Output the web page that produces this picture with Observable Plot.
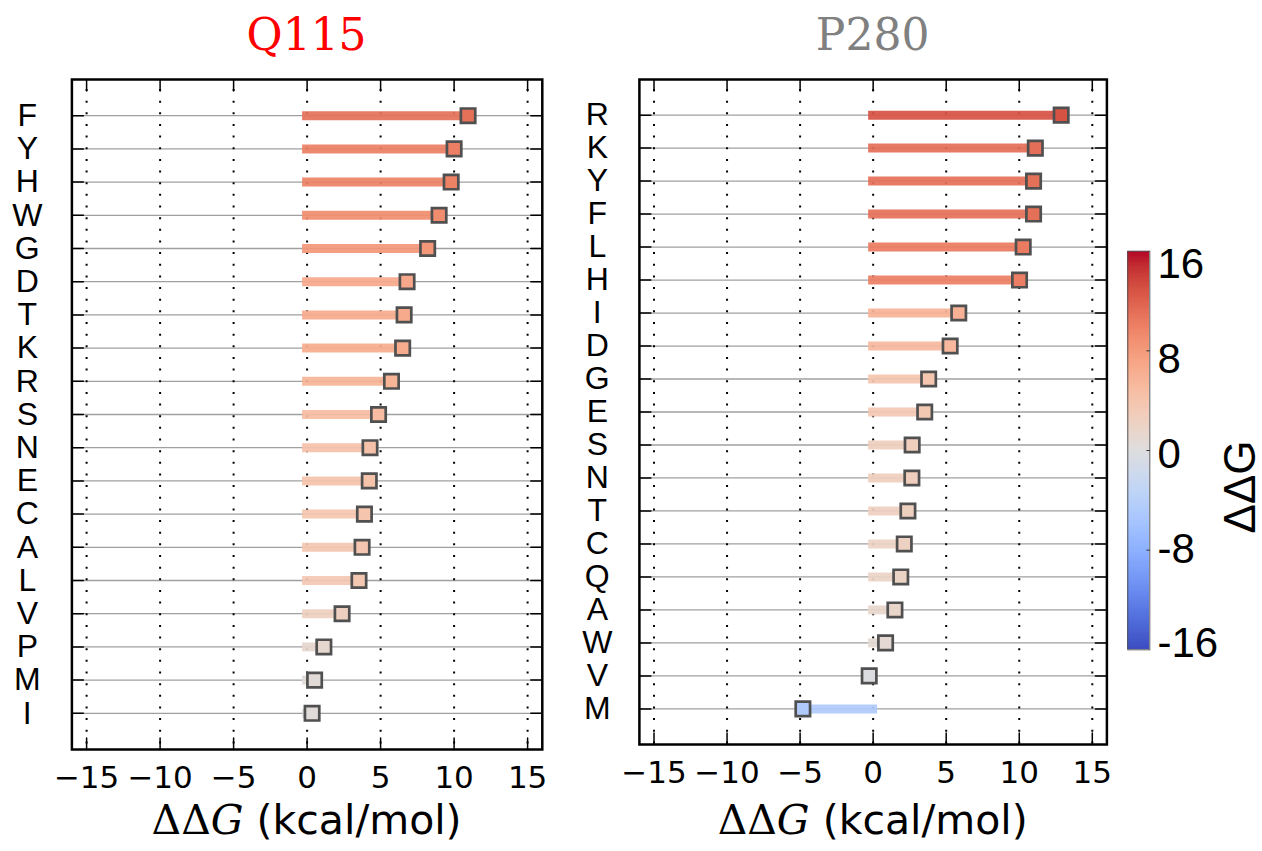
<!DOCTYPE html>
<html><head><meta charset="utf-8">
<script src="https://cdn.jsdelivr.net/npm/d3@7"></script>
<script src="https://cdn.jsdelivr.net/npm/@observablehq/plot@0.6"></script>
<style>
html,body{margin:0;padding:0;background:#fff;}
#wrap{position:relative;width:1262px;height:851px;overflow:hidden;background:#fff;}
#wrap svg{position:absolute;top:0;}
</style></head><body><div id="wrap"></div>
<script>
// ---- data ----
const q115Residues = ["F","Y","H","W","G","D","T","K","R","S","N","E","C","A","L","V","P","M","I"];
const q115Values   = [10.95, 10.0, 9.8, 8.98, 8.2, 6.8, 6.6, 6.5, 5.74, 4.86, 4.28, 4.23, 3.9, 3.74, 3.53, 2.38, 1.14, 0.51, 0.34];
const p280Residues = ["R","K","Y","F","L","H","I","D","G","E","S","N","T","C","Q","A","W","V","M"];
const p280Values   = [12.87, 11.1, 10.98, 10.98, 10.27, 10.02, 5.86, 5.27, 3.8, 3.53, 2.67, 2.65, 2.38, 2.13, 1.89, 1.49, 0.85, -0.27, -4.81];
const xTicks = [-15, -10, -5, 0, 5, 10, 15];
const colorbarTicks = [16, 8, 0, -8, -16];
const colorDomain = [-16, 16];
// matplotlib "coolwarm" colormap key colours
const coolwarmColors = [
  "rgb(59,76,192)","rgb(68,90,204)","rgb(77,104,215)","rgb(87,117,225)","rgb(98,130,234)",
  "rgb(108,142,241)","rgb(119,154,247)","rgb(130,165,251)","rgb(141,176,254)","rgb(152,185,255)",
  "rgb(163,194,255)","rgb(174,201,253)","rgb(184,208,249)","rgb(194,213,244)","rgb(204,217,238)",
  "rgb(213,219,230)","rgb(221,221,221)","rgb(229,216,209)","rgb(236,211,197)","rgb(241,204,185)",
  "rgb(245,196,173)","rgb(247,187,160)","rgb(247,177,148)","rgb(247,166,135)","rgb(244,154,123)",
  "rgb(241,141,111)","rgb(236,127,99)","rgb(229,112,88)","rgb(222,96,77)","rgb(213,80,66)",
  "rgb(203,62,56)","rgb(192,40,47)","rgb(180,4,38)"
];

const coolwarm = d3.piecewise(d3.interpolateRgb, coolwarmColors);
const colorScale = {type: "linear", domain: colorDomain, interpolate: coolwarm};
const minus = d => d < 0 ? "\u2212" + (-d) : String(d);
const tickShape = {draw(ctx, l) { ctx.moveTo(0, 0); ctx.lineTo(0, -l); }};
const wrap = document.getElementById("wrap");

function panel({residues, values, left, width, ml, mr, mt, mb, pad, labelOffset, title, titleColor}) {
  const data = residues.map((aa, i) => ({aa, v: values[i]}));
  const tickOpts = {anchor: "start", length: 11.5, shape: tickShape, stroke: "#000", strokeWidth: 1.5};
  const plot = Plot.plot({
    width, height: 851,
    marginLeft: ml, marginRight: mr, marginTop: mt, marginBottom: mb,
    style: {background: "transparent", overflow: "visible"},
    x: {domain: colorDomain},
    y: {type: "point", domain: residues, padding: pad, round: false, axis: null},
    color: colorScale,
    marks: [
      Plot.ruleY(residues, {y: d => d, stroke: "#a0a0a0", strokeWidth: 1.3}),
      Plot.ruleX(xTicks, {x: d => d, stroke: "#000", strokeWidth: 2, strokeDasharray: "2,9.65", strokeDashoffset: 1.65}),
      Plot.ruleY(data, {y: "aa", x1: 0, x2: "v", stroke: "v", strokeWidth: 9, strokeLinecap: "square", strokeOpacity: 0.92}),
      Plot.dot(data, {x: "v", y: "aa", symbol: "square", r: 8.1, fill: "v", stroke: "#505050", strokeWidth: 2.7}),
      Plot.vector(residues, {y: d => d, frameAnchor: "left", rotate: 90, ...tickOpts}),
      Plot.vector(residues, {y: d => d, frameAnchor: "right", rotate: -90, ...tickOpts}),
      Plot.vector(xTicks, {x: d => d, frameAnchor: "top", rotate: 180, ...tickOpts}),
      Plot.vector(xTicks, {x: d => d, frameAnchor: "bottom", rotate: 0, ...tickOpts}),
      Plot.frame({stroke: "#000", strokeWidth: 2.5}),
      Plot.text(residues, {y: d => d, text: d => d, frameAnchor: "left", dx: -labelOffset, textAnchor: "middle",
        fontSize: 32, fontFamily: "Liberation Sans, Arial, sans-serif", fill: "#000"}),
      Plot.axisX(xTicks, {tickSize: 0, tickPadding: 16, fontSize: 31, fontFamily: "DejaVu Sans", tickFormat: minus, fill: "#000", label: null})
    ]
  });
  plot.style.left = left + "px";
  const svg = d3.select(plot);
  const cx = (ml + (width - mr)) / 2;
  svg.append("text").attr("x", cx).attr("y", 50).attr("text-anchor", "middle")
    .attr("font-family", "DejaVu Serif").attr("font-size", 44).attr("fill", titleColor).text(title);
  const lab = svg.append("text").attr("x", cx).attr("y", 834).attr("text-anchor", "middle")
    .attr("font-size", 41).attr("fill", "#000");
  lab.append("tspan").attr("font-family", "DejaVu Serif").text("\u0394\u0394");
  lab.append("tspan").attr("font-family", "DejaVu Serif").attr("font-style", "italic").text("G");
  lab.append("tspan").attr("font-family", "DejaVu Sans").text(" (kcal/mol)");
  wrap.appendChild(plot);
}

panel({residues: q115Residues, values: q115Values, left: 0, width: 570, ml: 71.4, mr: 28.2, mt: 79, mb: 102,
  pad: 1.09, labelOffset: 44.6, title: "Q115", titleColor: "#ff0000"});
panel({residues: p280Residues, values: p280Values, left: 570, width: 545, ml: 68.9, mr: 8.6, mt: 79, mb: 107,
  pad: 1.08, labelOffset: 42.1, title: "P280", titleColor: "#808080"});

// ---- colour bar ----
const cbStep = 0.2;
const cbStops = d3.range(colorDomain[0], colorDomain[1] - 1e-9, cbStep);
const bar = Plot.plot({
  width: 147, height: 851,
  marginLeft: 12.3, marginRight: 112.7, marginTop: 250.7, marginBottom: 201.7,
  style: {background: "transparent", overflow: "visible"},
  x: {domain: [0, 1], axis: null},
  y: {domain: colorDomain, axis: null},
  color: colorScale,
  marks: [
    Plot.rect(cbStops, {x1: 0, x2: 1, y1: d => d, y2: d => d + cbStep, fill: d => d + cbStep / 2, shapeRendering: "crispEdges"}),
    Plot.vector(colorbarTicks.slice(1, 4), {y: d => d, frameAnchor: "right", rotate: -90, anchor: "start", length: 3, shape: tickShape, stroke: "#333", strokeWidth: 1}),
    Plot.frame({stroke: "#555", strokeWidth: 1})
  ]
});
bar.style.left = "1115px";
wrap.appendChild(bar);

const cbLabels = Plot.plot({
  width: 147, height: 851,
  marginLeft: 42, marginRight: 0, marginTop: 264.5, marginBottom: 207.5,
  style: {background: "transparent", overflow: "visible"},
  x: {axis: null},
  y: {domain: colorDomain, axis: null},
  marks: [
    Plot.text(colorbarTicks, {y: d => d, text: d => String(d), frameAnchor: "left", textAnchor: "start",
      fontSize: 42, fontFamily: "Liberation Sans, Arial, sans-serif", fill: "#000"})
  ]
});
cbLabels.style.left = "1115px";
d3.select(cbLabels).append("text").attr("transform", "translate(124,487) rotate(-90)")
  .attr("text-anchor", "middle").attr("dominant-baseline", "central")
  .attr("font-family", "Liberation Sans, Arial, sans-serif").attr("font-size", 44).attr("fill", "#000")
  .text("\u0394\u0394G");
wrap.appendChild(cbLabels);
</script></body></html>
